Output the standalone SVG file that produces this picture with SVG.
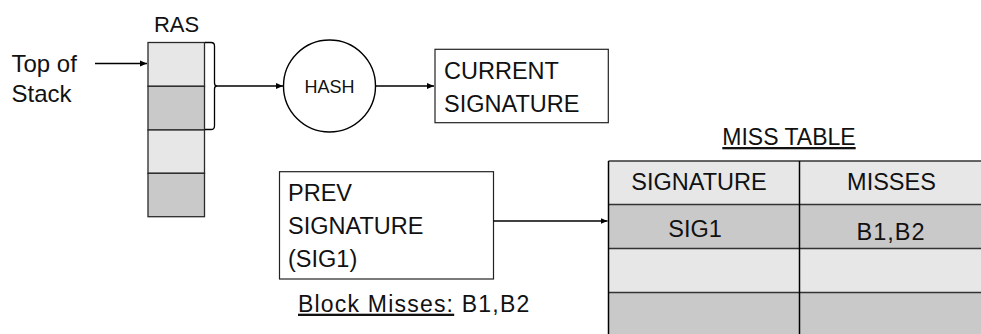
<svg xmlns="http://www.w3.org/2000/svg" width="981" height="334" viewBox="0 0 981 334">
  <style>
    text { font-family: "Liberation Sans", Arial, sans-serif; fill: #111; }
    .t23 { font-size: 23.5px; }
    .box { fill: #fff; stroke: #222; stroke-width: 1.2; }
    .light { fill: #e7e7e7; }
    .dark { fill: #c9c9c9; }
    .cell { stroke: #2a2a2a; stroke-width: 1.3; }
    .conn { fill: none; stroke: #000; stroke-width: 1.4; }
    .mid { text-anchor: middle; }
  </style>
  <defs>
    <marker id="arrow" markerWidth="8" markerHeight="8" refX="7" refY="4" orient="auto" markerUnits="userSpaceOnUse">
      <path d="M0,1 L7,4 L0,7 Z" fill="#000"/>
    </marker>
  </defs>
  <rect width="981" height="334" fill="#fff"/>

  <g id="ras">
    <text x="176.5" y="31.7" class="mid" font-size="22">RAS</text>
    <rect x="148" y="42.5" width="56.5" height="43.8" class="light cell"/>
    <rect x="148" y="86.3" width="56.5" height="43.7" class="dark cell"/>
    <rect x="148" y="130" width="56.5" height="43.3" class="light cell"/>
    <rect x="148" y="173.3" width="56.5" height="43.4" class="dark cell"/>
    <path d="M205,42.5 H211 Q214.5,42.5 214.5,46 V83 Q214.5,86 217,86 Q214.5,86 214.5,89 V126 Q214.5,129.5 211,129.5 H205" fill="none" stroke="#000" stroke-width="1.3"/>
  </g>

  <g id="top-of-stack">
    <text x="11.5" y="71.7" font-size="24">Top of</text>
    <text x="11.5" y="102.3" font-size="24">Stack</text>
  </g>

  <g id="hash">
    <circle cx="329.5" cy="86" r="46" fill="#fff" stroke="#000" stroke-width="1.4"/>
    <text x="329.5" y="93" class="mid" font-size="18">HASH</text>
  </g>

  <g id="current-signature">
    <rect x="435" y="49.3" width="173.3" height="73.4" class="box"/>
    <text x="444" y="79.3" class="t23">CURRENT</text>
    <text x="444" y="111.7" class="t23">SIGNATURE</text>
  </g>

  <g id="prev-signature">
    <rect x="279.5" y="171.7" width="214" height="107.3" class="box"/>
    <text x="288" y="200.7" class="t23">PREV</text>
    <text x="288" y="234" class="t23">SIGNATURE</text>
    <text x="288" y="266.7" class="t23">(SIG1)</text>
  </g>

  <g id="block-misses">
    <text x="298" y="311.7" font-size="23" letter-spacing="1.2"><tspan text-decoration="underline">Block Misses:</tspan> B1,B2</text>
  </g>

  <g id="miss-table">
    <text x="789" y="145" class="mid" font-size="23" text-decoration="underline">MISS TABLE</text>
    <rect x="608.5" y="161" width="380" height="43.5" class="light"/>
    <rect x="608.5" y="204.5" width="380" height="44" class="dark"/>
    <rect x="608.5" y="248.5" width="380" height="44" class="light"/>
    <rect x="608.5" y="292.5" width="380" height="50" class="dark"/>
    <g stroke="#333" stroke-width="1.3">
      <line x1="608.5" y1="161" x2="990" y2="161"/>
      <line x1="608.5" y1="204.5" x2="990" y2="204.5"/>
      <line x1="608.5" y1="248.5" x2="990" y2="248.5"/>
      <line x1="608.5" y1="292.5" x2="990" y2="292.5"/>
    </g>
    <g stroke="#000" stroke-width="1.5">
      <line x1="608.5" y1="161" x2="608.5" y2="340"/>
      <line x1="799.5" y1="161" x2="799.5" y2="340"/>
    </g>
    <text x="699" y="190" class="mid t23">SIGNATURE</text>
    <text x="891.5" y="190" class="mid t23">MISSES</text>
    <text x="695" y="236.7" class="mid t23">SIG1</text>
    <text x="891" y="240" class="mid t23" letter-spacing="1">B1,B2</text>
  </g>

  <g id="connectors">
    <line x1="95" y1="63.5" x2="147" y2="63.5" class="conn" marker-end="url(#arrow)"/>
    <line x1="217" y1="86" x2="283" y2="86" class="conn" marker-end="url(#arrow)"/>
    <line x1="375.5" y1="86" x2="434" y2="86" class="conn" marker-end="url(#arrow)"/>
    <line x1="493.5" y1="221" x2="607.5" y2="221" class="conn" marker-end="url(#arrow)"/>
  </g>
</svg>
